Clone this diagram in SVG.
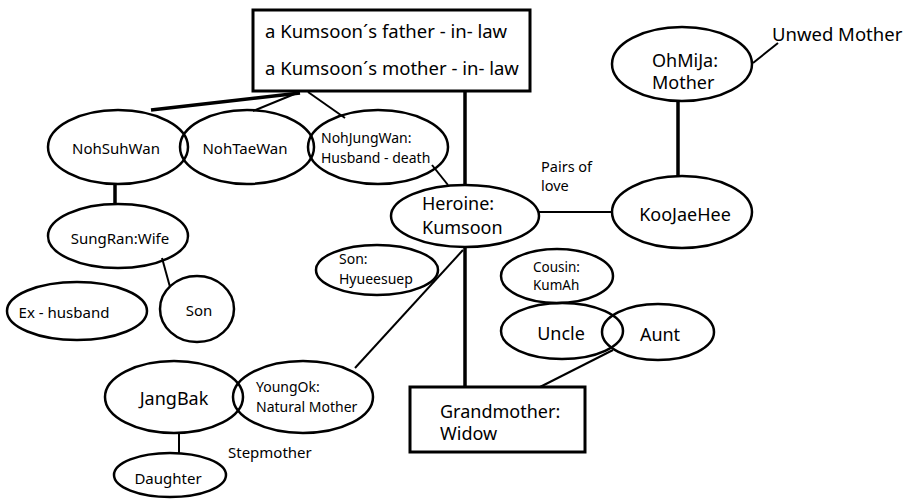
<svg xmlns="http://www.w3.org/2000/svg" width="909" height="500" viewBox="0 0 909 500">
<style>
text{font-family:"Noto Sans","Open Sans","DejaVu Sans",sans-serif;fill:#000;dominant-baseline:central}
.n{fill:none;stroke:#000;stroke-width:2.5}
.b{fill:#fff;stroke:#000;stroke-width:3}
.thick{stroke:#000;stroke-width:3.5;fill:none}
.thin{stroke:#000;stroke-width:2;fill:none}
.c{text-anchor:middle}
</style>
<rect width="909" height="500" fill="#fff"/>
<g id="connectors">
<line class="thick" x1="465" y1="91" x2="465" y2="186"/>
<line class="thick" x1="300" y1="93" x2="151" y2="110"/>
<line class="thin" x1="297" y1="93" x2="253" y2="111"/>
<line class="thin" x1="308" y1="92" x2="345" y2="118"/>
<line class="thin" x1="432" y1="165" x2="448" y2="185"/>
<line class="thick" x1="115" y1="183" x2="115" y2="205"/>
<line class="thin" x1="162" y1="258" x2="170" y2="287"/>
<line class="thin" x1="539" y1="212" x2="613" y2="212"/>
<line class="thick" x1="678" y1="101" x2="678" y2="177"/>
<line class="thin" x1="753" y1="63" x2="778" y2="43"/>
<line class="thick" x1="465" y1="247" x2="465" y2="388"/>
<line class="thin" x1="463" y1="250" x2="355" y2="368"/>
<line class="thin" x1="613" y1="350" x2="540" y2="387"/>
<line class="thin" x1="179" y1="433" x2="179" y2="454"/>
</g>
<g id="inlaws">
<rect class="b" x="253" y="10" width="277" height="81"/>
<text x="265" y="30" font-size="18.5">a Kumsoon´s father - in- law</text>
<text x="265" y="67" font-size="18.5">a Kumsoon´s mother - in- law</text>
</g>
<g id="nohsuhwan">
<ellipse class="n" cx="118" cy="147" rx="70" ry="37"/>
<text class="c" x="116" y="148" font-size="15">NohSuhWan</text>
</g>
<g id="nohtaewan">
<ellipse class="n" cx="247" cy="147" rx="67" ry="37"/>
<text class="c" x="245" y="148" font-size="15">NohTaeWan</text>
</g>
<g id="nohjungwan">
<ellipse class="n" cx="378" cy="147" rx="70" ry="37"/>
<text x="321" y="137" font-size="14">NohJungWan:</text>
<text x="321" y="157" font-size="14">Husband - death</text>
</g>
<g id="sungran">
<ellipse class="n" cx="118" cy="236" rx="70" ry="32"/>
<text class="c" x="120" y="238" font-size="15">SungRan:Wife</text>
</g>
<g id="exhusband">
<ellipse class="n" cx="77" cy="311" rx="70" ry="29"/>
<text class="c" x="64" y="312" font-size="15">Ex - husband</text>
</g>
<g id="son">
<ellipse class="n" cx="197" cy="309" rx="37" ry="33"/>
<text class="c" x="199" y="310" font-size="15">Son</text>
</g>
<g id="heroine">
<ellipse class="n" cx="465" cy="216" rx="74" ry="31"/>
<text x="422" y="203" font-size="18">Heroine:</text>
<text x="422" y="227" font-size="18">Kumsoon</text>
</g>
<g id="sonhyueesuep">
<ellipse class="n" cx="377" cy="270" rx="61" ry="25"/>
<text x="339" y="258" font-size="14">Son:</text>
<text x="339" y="278" font-size="14">Hyueesuep</text>
</g>
<g id="pairs">
<text x="541" y="166" font-size="14.5">Pairs of</text>
<text x="541" y="185" font-size="14.5">love</text>
</g>
<g id="ohmija">
<ellipse class="n" cx="682" cy="64" rx="70" ry="37"/>
<text x="652" y="60" font-size="18">OhMiJa:</text>
<text x="652" y="82" font-size="18">Mother</text>
</g>
<g id="unwed">
<text x="772" y="33" font-size="18.5">Unwed Mother</text>
</g>
<g id="koojaehee">
<ellipse class="n" cx="682" cy="212" rx="70" ry="36"/>
<text class="c" x="685" y="214" font-size="18">KooJaeHee</text>
</g>
<g id="cousin">
<ellipse class="n" cx="557" cy="276" rx="56" ry="27"/>
<text x="533" y="267" font-size="13.5">Cousin:</text>
<text x="533" y="285" font-size="13.5">KumAh</text>
</g>
<g id="uncle">
<ellipse class="n" cx="562" cy="331" rx="61" ry="28"/>
<text class="c" x="561" y="333" font-size="18">Uncle</text>
</g>
<g id="aunt">
<ellipse class="n" cx="658" cy="332" rx="56" ry="28"/>
<text class="c" x="660" y="334" font-size="18">Aunt</text>
</g>
<g id="grandmother">
<rect class="b" x="410" y="387" width="175" height="65"/>
<text x="440" y="411" font-size="18">Grandmother:</text>
<text x="440" y="433" font-size="18">Widow</text>
</g>
<g id="jangbak">
<ellipse class="n" cx="174" cy="397" rx="69" ry="36"/>
<text class="c" x="174" y="398" font-size="18">JangBak</text>
</g>
<g id="youngok">
<ellipse class="n" cx="303" cy="397" rx="70" ry="36"/>
<text x="256" y="386" font-size="14">YoungOk:</text>
<text x="256" y="406" font-size="14">Natural Mother</text>
</g>
<g id="daughter">
<ellipse class="n" cx="170" cy="475" rx="56" ry="22"/>
<text class="c" x="168" y="478" font-size="15">Daughter</text>
</g>
<g id="stepmother">
<text x="228" y="452" font-size="15">Stepmother</text>
</g>
</svg>
